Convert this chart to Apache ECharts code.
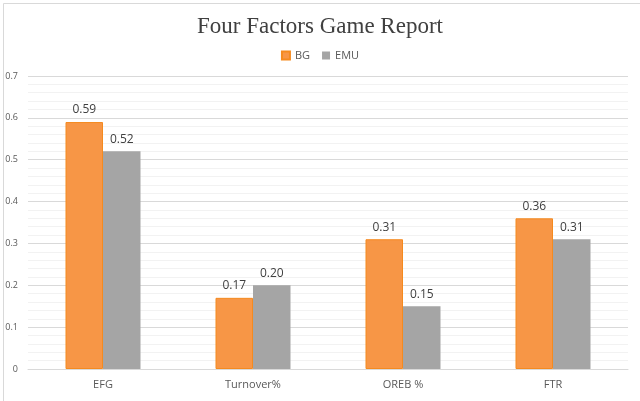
<!DOCTYPE html>
<html><head><meta charset="utf-8">
<script src="https://cdn.jsdelivr.net/npm/echarts@6/dist/echarts.min.js"></script>
<style>html,body{margin:0;padding:0;background:#fff}#c{width:640px;height:401px}</style>
</head><body><div id="c"></div>
<script>
const categories = ['EFG', 'Turnover%', 'OREB %', 'FTR'];
const bgValues = [0.59, 0.17, 0.31, 0.36];
const emuValues = [0.52, 0.20, 0.15, 0.31];
const yTicks = [0, 0.1, 0.2, 0.3, 0.4, 0.5, 0.6, 0.7];

const chart = echarts.init(document.getElementById('c'));
const labelOpt = {
  show: true, position: 'top', distance: 6,
  color: '#404040', fontSize: 12, fontFamily: 'Open Sans',
  formatter: p => p.value.toFixed(2)
};
chart.setOption({
  animation: false,
  backgroundColor: '#fff',
  graphic: [{
    type: 'rect', left: 1, top: 1,
    shape: { width: 637, height: 398 },
    style: { fill: 'none', stroke: '#d9d9d9', lineWidth: 1 }, silent: true
  }],
  title: {
    text: 'Four Factors Game Report', left: 'center', top: 10,
    textStyle: { fontFamily: 'Liberation Serif', fontWeight: 'normal', fontSize: 23, color: '#404040' }
  },
  legend: {
    top: 45, left: 'center', itemWidth: 8, itemHeight: 8, itemGap: 12,
    icon: 'rect',
    textStyle: { color: '#595959', fontSize: 11, fontFamily: 'Open Sans' },
    data: ['BG', 'EMU']
  },
  grid: { left: 28, right: 12, top: 76, bottom: 32 },
  xAxis: {
    type: 'category', data: categories,
    axisLine: { lineStyle: { color: '#d9d9d9' } },
    axisTick: { show: false },
    axisLabel: { color: '#595959', fontSize: 11, fontFamily: 'Open Sans', margin: 10 }
  },
  yAxis: {
    type: 'value', min: yTicks[0], max: yTicks[yTicks.length - 1], interval: 0.1,
    axisLine: { show: false }, axisTick: { show: false },
    axisLabel: { color: '#595959', fontSize: 9, fontFamily: 'Open Sans', margin: 10,
      formatter: v => String(Math.round(v * 10) / 10) },
    splitLine: { lineStyle: { color: '#d9d9d9' } },
    minorTick: { show: false, splitNumber: 5 },
    minorSplitLine: { show: true, lineStyle: { color: '#f2f2f2' } }
  },
  series: [
    { name: 'BG', type: 'bar', data: bgValues, barGap: '0%', barCategoryGap: '50%',
      itemStyle: { color: '#F79646', borderColor: '#F58A1F', borderWidth: 1 }, label: labelOpt },
    { name: 'EMU', type: 'bar', data: emuValues,
      itemStyle: { color: '#A5A5A5' }, label: labelOpt }
  ]
});
</script></body></html>
